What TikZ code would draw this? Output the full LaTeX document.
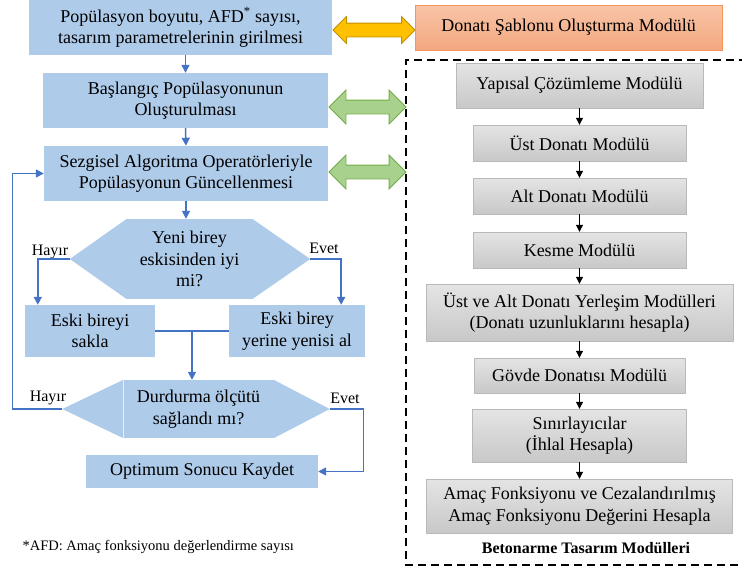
\documentclass[tikz,border=0pt]{standalone}
\usepackage{fontspec}
\setmainfont{Liberation Serif}
\usepackage{tikz}
\usetikzlibrary{shapes.arrows, positioning, arrows.meta, calc}
\definecolor{FCBlue}{RGB}{174,203,234}
\definecolor{FCLine}{RGB}{68,114,196}
\definecolor{FCGold}{RGB}{255,192,0}
\definecolor{FCGoldDk}{RGB}{191,144,0}
\definecolor{FCGreen}{RGB}{169,209,142}
\definecolor{FCGreenDk}{RGB}{112,173,71}
\definecolor{FCSalmonTop}{RGB}{248,196,168}
\definecolor{FCSalmonBot}{RGB}{243,168,126}
\definecolor{FCSalmonDk}{RGB}{244,150,90}
\definecolor{FCGrayTop}{RGB}{228,228,228}
\definecolor{FCGrayBot}{RGB}{200,200,200}
\definecolor{FCGrayDk}{RGB}{185,185,185}

\begin{document}
\begin{tikzpicture}[x=1pt, y=-1pt,
          every node/.style={font=\fontsize{18}{21.6}\selectfont},
          box/.style={rectangle, fill=FCBlue, inner sep=0pt, align=center},
          mod/.style={rectangle, draw=FCGrayDk, top color=FCGrayTop,
                      bottom color=FCGrayBot, inner sep=0pt, align=center},
          conn/.style={-{Triangle[length=8pt, width=8pt]}, FCLine, line width=1.5pt},
          arr/.style={-{Triangle[length=7pt, width=7pt]}, black, line width=1pt},
          lbl/.style={font=\fontsize{16}{19}\selectfont},
          dbl/.style={double arrow, inner sep=6.5pt, line width=0.8pt}
        ]
        \useasboundingbox (0,0) rectangle (742,570);

        % Optimisation loop (left)
        \node[box, minimum width=303pt, minimum height=55pt] (input) at (180.5, 27.5)
              {Popülasyon boyutu, AFD\textsuperscript{*} sayısı,\\tasarım parametrelerinin girilmesi};
        \node[box, minimum width=285pt, minimum height=55pt] (init) at (185.5, 100.5)
              {Başlangıç Popülasyonunun\\Oluşturulması};
        \node[box, minimum width=284pt, minimum height=55pt] (update) at (186, 173.5)
              {Sezgisel Algoritma Operatörleriyle\\Popülasyonun Güncellenmesi};
        \draw[conn] (input.south -| init.north) -- (init.north);
        \draw[conn] (init.south) -- (update.north);

        % First decision
        \node[box, minimum width=125pt, minimum height=80pt] (better) at (189.5, 259)
              {Yeni birey\\eskisinden iyi\\mi?};
        \coordinate (betterW) at ($(better.west)+(-57,0)$);
        \coordinate (betterE) at ($(better.east)+(58,0)$);
        \fill[FCBlue] (better.north west) -- (betterW) -- (better.south west) -- cycle;
        \fill[FCBlue] (better.north east) -- (betterE) -- (better.south east) -- cycle;
        \draw[conn] (update.south) -- (update.south |- better.north);

        \node[box, minimum width=130pt, minimum height=52pt] (keep) at (90, 331)
              {Eski bireyi\\sakla};
        \node[box, minimum width=136pt, minimum height=52pt] (replace) at (297, 331)
              {Eski birey\\yerine yenisi al};
        \node[lbl] (no1) at (50, 252) {Hayır};
        \node[lbl] (yes1) at (324, 248) {Evet};
        \draw[conn] (betterW) -| ([xshift=13pt]keep.north west);
        \draw[conn] (betterE) -| ([xshift=-24pt]replace.north east);

        % Second decision
        \node[box, minimum width=150pt, minimum height=58pt] (stop) at (198.5, 409)
              {Durdurma ölçütü\\sağlandı mı?};
        \coordinate (stopW) at ($(stop.west)+(-61,0)$);
        \coordinate (stopE) at ($(stop.east)+(56,0)$);
        \fill[FCBlue] (stop.north west) -- (stopW) -- (stop.south west) -- cycle;
        \fill[FCBlue] (stop.north east) -- (stopE) -- (stop.south east) -- cycle;
        \coordinate (join) at ($(keep.east)!0.5!(replace.west)$);
        \draw[FCLine, line width=1.5pt] (keep.east) -- (replace.west);
        \draw[conn] (join) -- (join |- stop.north);

        \node[box, minimum width=232pt, minimum height=33pt] (best) at (202, 471.5)
              {Optimum Sonucu Kaydet};
        \node[lbl] (no2) at (48, 398) {Hayır};
        \node[lbl] (yes2) at (345, 398) {Evet};
        \draw[conn] (stopW) -- ++(-50,0) |- (update.west);
        \draw[conn] (stopE) -- ++(34,0) |- (best.east);

        \node[font=\fontsize{14.5}{17}\selectfont, anchor=west] (note) at (19, 547)
              {*AFD: Amaç fonksiyonu değerlendirme sayısı};

        % Links to the design modules
        \node[dbl, fill=FCGold, draw=FCGoldDk, minimum height=82pt,
              double arrow head extend=6.5pt] (link0) at (374, 30) {};
        \node[dbl, fill=FCGreen, draw=FCGreenDk, minimum height=77pt,
              double arrow head extend=10pt] (link1) at (367.5, 107) {};
        \node[dbl, fill=FCGreen, draw=FCGreenDk, minimum height=77pt,
              double arrow head extend=10pt] (link2) at (367.5, 172) {};

        \node[draw=FCSalmonDk, top color=FCSalmonTop, bottom color=FCSalmonBot,
              minimum width=307pt, minimum height=45pt, inner sep=0pt] (tmpl) at (568.5, 27.5)
              {Donatı Şablonu Oluşturma Modülü};

        % Design modules (right)
        \begin{scope}
          \clip (0,0) rectangle (742,570);
          \draw[line width=2pt, dash pattern=on 8pt off 5pt]
                (760,60) -- (406,60) -- (406,565) -- (760,565);
        \end{scope}
        \node[mod, minimum width=247pt, minimum height=45pt] (struct) at (579.5, 85.5)
              {Yapısal Çözümleme Modülü};
        \node[mod, minimum width=213pt, minimum height=36pt] (top) at (579.5, 143)
              {Üst Donatı Modülü};
        \node[mod, minimum width=213pt, minimum height=36pt] (bottom) at (579.5, 196)
              {Alt Donatı Modülü};
        \node[mod, minimum width=213pt, minimum height=36pt] (shear) at (579.5, 250)
              {Kesme Modülü};
        \node[mod, minimum width=307pt, minimum height=57pt] (place) at (579.5, 312.5)
              {Üst ve Alt Donatı Yerleşim Modülleri\\(Donatı uzunluklarını hesapla)};
        \node[mod, minimum width=211pt, minimum height=35pt] (web) at (579.5, 375.5)
              {Gövde Donatısı Modülü};
        \node[mod, minimum width=214pt, minimum height=53pt] (constr) at (579.5, 435.5)
              {Sınırlayıcılar\\(İhlal Hesapla)};
        \node[mod, minimum width=306pt, minimum height=54pt] (obj) at (579.5, 506)
              {Amaç Fonksiyonu ve Cezalandırılmış\\Amaç Fonksiyonu Değerini Hesapla};
        \draw[arr] (struct) -- (top);
        \draw[arr] (top) -- (bottom);
        \draw[arr] (bottom) -- (shear);
        \draw[arr] (shear) -- (place);
        \draw[arr] (place) -- (web);
        \draw[arr] (web) -- (constr);
        \draw[arr] (constr) -- (obj);
        \node[font=\fontsize{16}{19}\selectfont\bfseries] (frametitle) at (586, 548)
              {Betonarme Tasarım Modülleri};
      \end{tikzpicture}
\end{document}
